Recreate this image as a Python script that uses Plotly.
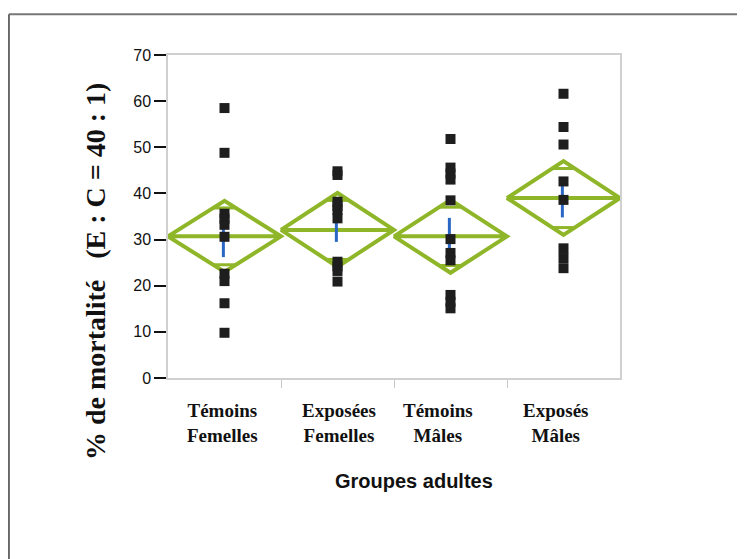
import plotly.graph_objects as go

# ---- data ----
categories = ["Témoins<br>Femelles", "Exposées<br>Femelles", "Témoins<br>Mâles", "Exposés<br>Mâles"]
pts_temoins_f = [58.5, 48.8, 35.6, 34.5, 33.2, 30.6, 22.6, 21.0, 16.2, 9.8]
pts_exposees_f = [44.8, 44.0, 38.2, 37.3, 36.4, 34.6, 25.2, 24.2, 23.2, 20.9]
pts_temoins_m = [51.8, 45.6, 44.3, 43.0, 38.5, 30.1, 27.1, 25.5, 18.0, 16.5, 15.1]
pts_exposes_m = [61.6, 54.4, 50.6, 42.6, 38.6, 28.1, 26.0, 23.8]
group_points = [pts_temoins_f, pts_exposees_f, pts_temoins_m, pts_exposes_m]
means = [30.7, 32.1, 30.7, 39.0]          # mean line of each diamond
ci_half = [7.7, 8.0, 7.9, 8.0]             # half height of each means diamond
se = [4.5, 2.6, 4.0, 4.2]                  # blue standard-error bar half length
y_ticks = [0, 10, 20, 30, 40, 50, 60, 70]
x_title = "Groupes adultes"
y_title = "% de mortalité\u00a0\u00a0\u00a0(E : C = 40 : 1)"

# ---- style ----
GREEN = "#8fb628"
BLUE = "#2a66c4"
label_shift = [-0.02, 0.01, -0.11, -0.07]
overlap_frac = 0.8

fig = go.Figure()
n = len(categories)
for i in range(n):
    m, h = means[i], ci_half[i]
    # diamond
    fig.add_trace(go.Scatter(
        x=[i - 0.5, i, i + 0.5, i, i - 0.5, i + 0.5],
        y=[m, m + h, m, m - h, m, m],
        mode="lines", line=dict(color=GREEN, width=4),
        hoverinfo="skip", showlegend=False))
    # overlap marks
    for s in (1, -1):
        yy = m + s * h * overlap_frac
        half_w = 0.5 * (1 - overlap_frac)
        fig.add_trace(go.Scatter(
            x=[i - half_w, i + half_w], y=[yy, yy],
            mode="lines", line=dict(color=GREEN, width=3),
            hoverinfo="skip", showlegend=False))
    # standard error bar
    fig.add_trace(go.Scatter(
        x=[i - 0.01, i - 0.01], y=[m - se[i], m + se[i]],
        mode="lines", line=dict(color=BLUE, width=3),
        hoverinfo="skip", showlegend=False))

for i, pts in enumerate(group_points):
    fig.add_trace(go.Scatter(
        x=[i] * len(pts), y=pts, mode="markers",
        marker=dict(symbol="square", size=10, color="#1e1e1e",
                    line=dict(width=0)),
        showlegend=False))

# category labels
for i, lab in enumerate(categories):
    fig.add_annotation(
        x=i + label_shift[i], y=-0.062, xref="x", yref="paper",
        text="<b>%s</b>" % lab, showarrow=False, xanchor="center", yanchor="top",
        font=dict(family="Liberation Serif, Times New Roman, serif", size=19, color="#111"))

fig.add_annotation(
    x=0.545, y=-0.32, xref="paper", yref="paper", text="<b>%s</b>" % x_title,
    showarrow=False, xanchor="center", yanchor="middle",
    font=dict(family="Liberation Sans, Arial, sans-serif", size=20, color="#111"))

fig.add_annotation(
    x=-0.16, y=0.33, xref="paper", yref="paper", text="<b>%s</b>" % y_title,
    showarrow=False, xanchor="center", yanchor="middle", textangle=-90,
    font=dict(family="Liberation Serif, Times New Roman, serif", size=28, color="#111"))

# outer frame of the scanned figure
fig.add_shape(type="line", xref="paper", yref="paper",
              x0=-0.352, x1=1.30, y0=1.1265, y1=1.1265,
              line=dict(color="#777", width=2))
fig.add_shape(type="line", xref="paper", yref="paper",
              x0=-0.352, x1=-0.352, y0=1.1265, y1=-0.6,
              line=dict(color="#666", width=2))

fig.update_xaxes(
    range=[-0.5, n - 0.5], showgrid=False, zeroline=False,
    tickvals=[i + 0.5 for i in range(n - 1)], ticktext=[""] * (n - 1),
    ticks="outside", ticklen=8, tickcolor="#c8c8c8", tickwidth=1,
    showline=True, linecolor="#d0d0d0", linewidth=1.5, mirror=True)
fig.update_yaxes(
    range=[0, 70], showgrid=False, zeroline=False,
    tickvals=y_ticks, ticks="outside", ticklen=12, tickwidth=2, tickcolor="#111",
    tickfont=dict(family="Liberation Sans, Arial, sans-serif", size=16, color="#111"),
    showline=True, linecolor="#d0d0d0", linewidth=1.5, mirror=True)

fig.update_layout(
    width=745, height=559,
    margin=dict(l=160, r=133, t=47, b=189),
    plot_bgcolor="white", paper_bgcolor="white")

fig.write_html("out.html")
